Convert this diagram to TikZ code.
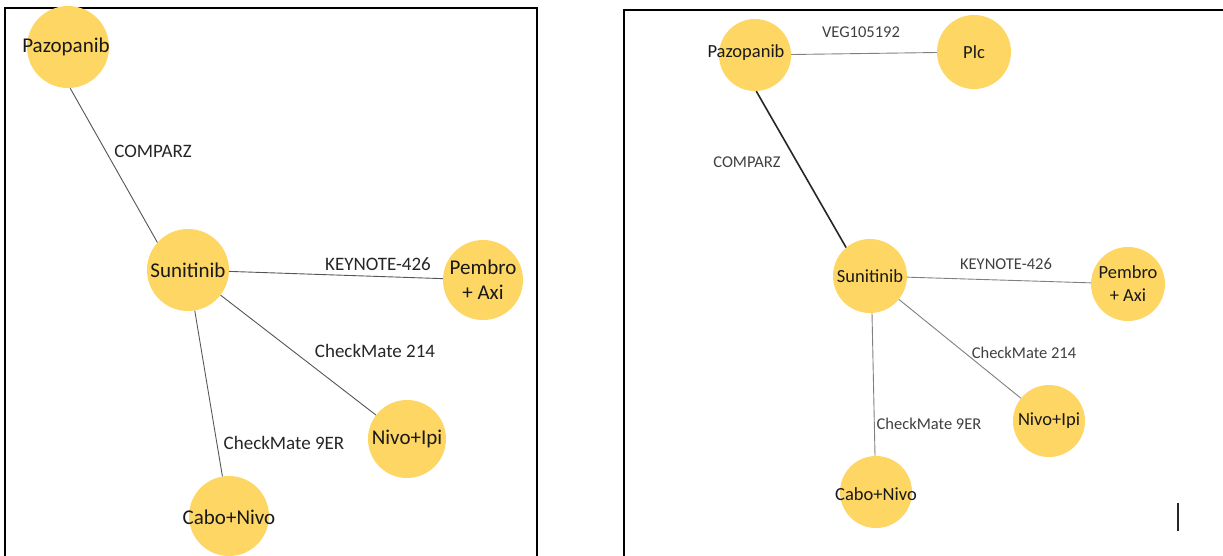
\documentclass[tikz,border=0pt]{standalone}
\usepackage{fontspec}
\setmainfont{Carlito}
\definecolor{nodefill}{HTML}{FDD663}
\definecolor{edgegray}{HTML}{555555}
\tikzset{
  x=1pt, y=-1pt,
  drug/.style={circle, fill=nodefill, inner sep=0pt, text=black!90},
  bigdrug/.style={drug, minimum size=82pt, font=\fontsize{21}{23}\selectfont},
  smalldrug/.style={drug, minimum size=74pt, font=\fontsize{18.5}{21}\selectfont},
  edgeL/.style={draw=edgegray, line width=0.9pt},
  edgeR/.style={draw=gray, line width=0.9pt},
  edgeBold/.style={draw=black!85, line width=1.6pt},
  lblL/.style={font=\fontsize{19}{21}\selectfont, text=black!85},
  lblR/.style={font=\fontsize{16.5}{19}\selectfont, text=black!75},
  panel/.style={draw=black, line width=1.5pt}
}
\begin{document}
\begin{tikzpicture}
\useasboundingbox (0,0) rectangle (1223,555);
\fill[white] (0,0) rectangle (1223,555);
% panels
\draw[panel] (5,570) -- (5,8) -- (537,8) -- (537,570);
\draw[panel] (624,570) -- (624,10) -- (1240,10);

% ---------- left panel ----------
\node[bigdrug] (lpaz) at (68,47) {};
\node[font=\fontsize{21}{23}\selectfont, text=black!90] (lpazt) at (66,47) {Pazopanib};
\node[bigdrug] (lsun) at (188,270) {Sunitinib};
\node[bigdrug, minimum size=80pt, align=center] (lpem) at (483,280) {Pembro\\[2pt]+ Axi};
\node[bigdrug, minimum size=78pt] (lniv) at (407,439) {Nivo+Ipi};
\node[bigdrug, minimum size=80pt] (lcab) at (229,516) {};
\node[font=\fontsize{21}{23}\selectfont, text=black!90] (lcabt) at (229,517) {Cabo+Nivo};

\path[edgeL] (lpaz.273) -- (lsun.138);
\path[edgeL] (lsun) -- (lpem);
\path[edgeL] (lsun) -- (lniv);
\path[edgeL] (lsun) -- (lcab);

\node[lblL] (l1) at (153,151) {COMPARZ};
\node[lblL] (l2) at (378,264) {KEYNOTE-426};
\node[lblL] (l3) at (375,351) {CheckMate 214};
\node[lblL] (l4) at (284,443) {CheckMate 9ER};

% ---------- right panel ----------
\node[smalldrug, minimum size=72pt] (rpaz) at (755,55) {};
\node[font=\fontsize{18.5}{21}\selectfont, text=black!90] (rpazt) at (746,53) {Pazopanib};
\node[smalldrug] (rplc) at (974,52) {Plc};
\node[smalldrug] (rsun) at (870,276) {Sunitinib};
\node[smalldrug, align=center] (rpem) at (1128,284) {Pembro\\[2pt]+ Axi};
\node[smalldrug, minimum size=72pt] (rniv) at (1049,421) {Nivo+Ipi};
\node[smalldrug, minimum size=72pt] (rcab) at (876,492) {};
\node[font=\fontsize{18.5}{21}\selectfont, text=black!90] (rcabt) at (876,494) {Cabo+Nivo};

\path[edgeR] (rpaz) -- (rplc);
\path[edgeBold] (rpaz.272) -- (rsun.130);
\path[edgeR] (rsun) -- (rpem);
\path[edgeR] (rsun) -- (rniv);
\path[edgeR] (rsun.south) ++(2,0) coordinate (rsunb) (rcab.north) ++(-1,0) coordinate (rcabt2);
\path[edgeR] (rsunb) -- (rcabt2);

\node[lblR] (r0) at (861,32) {VEG105192};
\node[lblR] (r1) at (747,162) {COMPARZ};
\node[lblR] (r2) at (1006,264) {KEYNOTE-426};
\node[lblR] (r3) at (1024,353) {CheckMate 214};
\node[lblR] (r4) at (929,424) {CheckMate 9ER};

% stray mark
\coordinate (m1) at (1178,503);
\coordinate (m2) at (1178,531);
\draw[black!85, line width=1.6pt] (m1) -- (m2);
\end{tikzpicture}
\end{document}
